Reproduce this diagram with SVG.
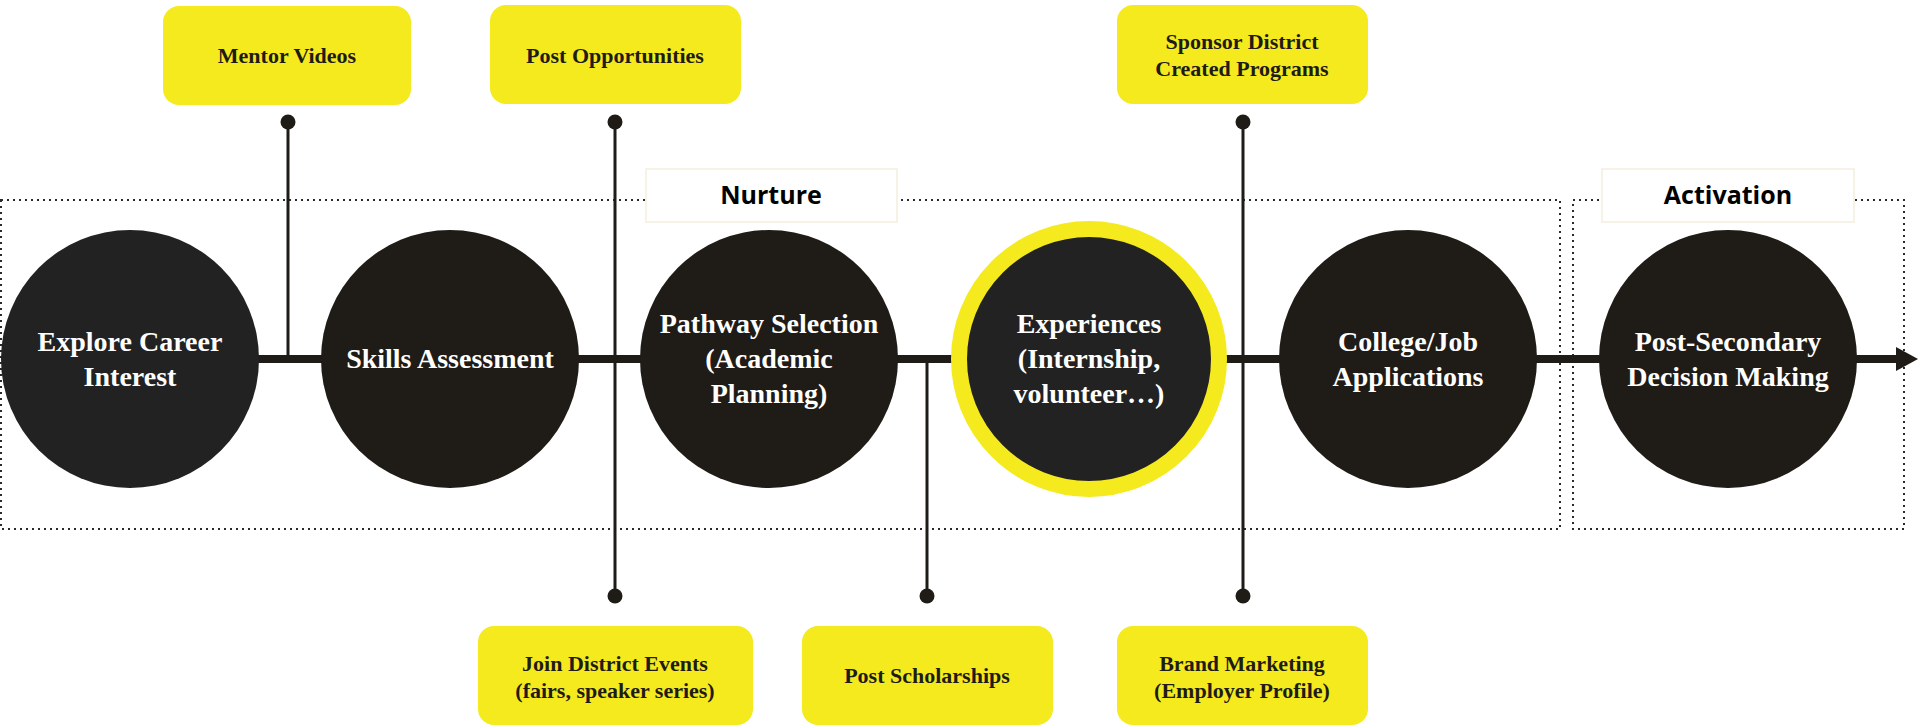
<svg xmlns="http://www.w3.org/2000/svg" width="1920" height="726" viewBox="0 0 1920 726">
<style>
.bg{fill:#ffffff}
.zone{fill:none;stroke:#2a2a2a;stroke-width:2;stroke-dasharray:2 4}
.lbl{fill:#ffffff;stroke:#f6f2e6;stroke-width:2}
.lbltxt{font-family:"Open Sans","Liberation Sans",sans-serif;font-weight:700;font-size:25px;fill:#000;text-anchor:middle}
.stage{fill:#1f1b16}
.stage2{fill:#222222}
.stxt{font-family:"Liberation Serif",serif;font-weight:700;font-size:28px;fill:#ffffff;text-anchor:middle}
.box{fill:#f4ea1e}
.btxt{font-family:"Liberation Serif",serif;font-weight:700;font-size:22px;fill:#1f1b16;text-anchor:middle}
.main{stroke:#1f1b16;stroke-width:8;fill:none}
.stem{stroke:#1f1b16;stroke-width:3;fill:none}
.dot{fill:#1f1b16}
</style>
<rect class="bg" x="0" y="0" width="1920" height="726"/>

<g id="zones">
<rect class="zone" x="1" y="200" width="1559" height="329"/>
<rect class="zone" x="1573" y="200" width="331" height="329"/>
<g id="label-nurture">
<rect class="lbl" x="646" y="169" width="251" height="53"/>
<text class="lbltxt" x="771" y="204">Nurture</text>
</g>
<g id="label-activation">
<rect class="lbl" x="1602" y="169" width="252" height="53"/>
<text class="lbltxt" x="1728" y="204">Activation</text>
</g>
</g>

<g id="connectors">
<line class="main" x1="130" y1="359" x2="1898" y2="359"/>
<polygon class="dot" points="1896,347 1918,359 1896,371"/>
<line class="stem" x1="288" y1="122" x2="288" y2="359"/>
<circle class="dot" cx="288" cy="122" r="7.5"/>
<line class="stem" x1="615" y1="122" x2="615" y2="596"/>
<circle class="dot" cx="615" cy="122" r="7.5"/>
<circle class="dot" cx="615" cy="596" r="7.5"/>
<line class="stem" x1="927" y1="359" x2="927" y2="596"/>
<circle class="dot" cx="927" cy="596" r="7.5"/>
<line class="stem" x1="1243" y1="122" x2="1243" y2="596"/>
<circle class="dot" cx="1243" cy="122" r="7.5"/>
<circle class="dot" cx="1243" cy="596" r="7.5"/>
</g>

<g id="stage-explore">
<circle class="stage2" cx="130" cy="359" r="129"/>
<text class="stxt" x="130" y="351">Explore Career</text>
<text class="stxt" x="130" y="386">Interest</text>
</g>
<g id="stage-skills">
<circle class="stage" cx="450" cy="359" r="129"/>
<text class="stxt" x="450" y="368">Skills Assessment</text>
</g>
<g id="stage-pathway">
<circle class="stage" cx="769" cy="359" r="129"/>
<text class="stxt" x="769" y="333">Pathway Selection</text>
<text class="stxt" x="769" y="368">(Academic</text>
<text class="stxt" x="769" y="403">Planning)</text>
</g>
<g id="stage-experiences">
<circle class="stage2" cx="1089" cy="359" r="130" stroke="#f4ea1e" stroke-width="16"/>
<text class="stxt" x="1089" y="333">Experiences</text>
<text class="stxt" x="1089" y="368">(Internship,</text>
<text class="stxt" x="1089" y="403">volunteer…)</text>
</g>
<g id="stage-applications">
<circle class="stage" cx="1408" cy="359" r="129"/>
<text class="stxt" x="1408" y="351">College/Job</text>
<text class="stxt" x="1408" y="386">Applications</text>
</g>
<g id="stage-decision">
<circle class="stage" cx="1728" cy="359" r="129"/>
<text class="stxt" x="1728" y="351">Post-Secondary</text>
<text class="stxt" x="1728" y="386">Decision Making</text>
</g>

<g id="box-mentor">
<rect class="box" x="163" y="6" width="248" height="99" rx="16"/>
<text class="btxt" x="287" y="63">Mentor Videos</text>
</g>
<g id="box-post-opps">
<rect class="box" x="490" y="5" width="251" height="99" rx="16"/>
<text class="btxt" x="615" y="63">Post Opportunities</text>
</g>
<g id="box-sponsor">
<rect class="box" x="1117" y="5" width="251" height="99" rx="16"/>
<text class="btxt" x="1242" y="49">Sponsor District</text>
<text class="btxt" x="1242" y="76">Created Programs</text>
</g>
<g id="box-join">
<rect class="box" x="478" y="626" width="275" height="99" rx="16"/>
<text class="btxt" x="615" y="671">Join District Events</text>
<text class="btxt" x="615" y="698">(fairs, speaker series)</text>
</g>
<g id="box-scholarships">
<rect class="box" x="802" y="626" width="251" height="99" rx="16"/>
<text class="btxt" x="927" y="683">Post Scholarships</text>
</g>
<g id="box-brand">
<rect class="box" x="1117" y="626" width="251" height="99" rx="16"/>
<text class="btxt" x="1242" y="671">Brand Marketing</text>
<text class="btxt" x="1242" y="698">(Employer Profile)</text>
</g>
</svg>
